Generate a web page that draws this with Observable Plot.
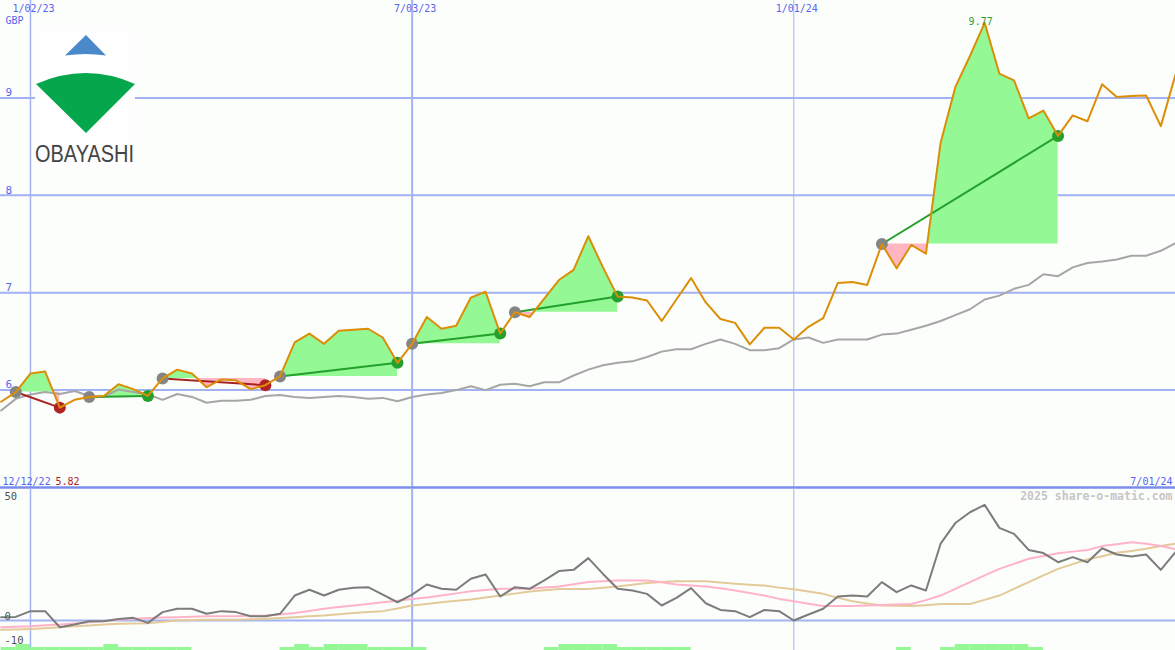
<!DOCTYPE html>
<html><head><meta charset="utf-8">
<script src="https://cdn.jsdelivr.net/npm/d3@7"></script>
<script src="https://cdn.jsdelivr.net/npm/@observablehq/plot@0.6"></script>
<style>
html,body{margin:0;padding:0;background:#fcfefc;}
#chart{position:relative;width:1175px;height:650px;overflow:hidden;background:#fcfefc;}
#chart > svg{position:absolute;left:0;}
</style></head><body><div id="chart"></div>
<script>
// ---------- data ----------
const startWeek = "2022-12-19", endWeek = "2024-07-01";
const price = [5.88,5.98,6.17,6.19,5.82,5.90,5.93,5.94,6.06,6.01,
  5.94,6.12,6.21,6.17,6.03,6.11,6.10,6.01,6.05,6.14,
  6.49,6.58,6.475,6.61,6.62,6.63,6.54,6.28,6.475,6.75,
  6.63,6.66,6.95,7.01,6.58,6.80,6.75,6.94,7.13,7.235,
  7.58,7.26,6.96,6.95,6.92,6.71,6.93,7.15,6.90,6.73,
  6.69,6.47,6.64,6.64,6.52,6.65,6.74,7.10,7.11,7.08,
  7.50,7.25,7.49,7.40,8.54,9.11,9.43,9.77,9.25,9.18,
  8.79,8.87,8.61,8.82,8.76,9.14,9.01,9.02,9.025,8.71,9.24];
const priceMA = [5.79,5.91,5.955,5.98,5.96,5.99,5.94,5.93,6.006,5.98,
  5.955,5.90,5.96,5.93,5.87,5.89,5.89,5.90,5.94,5.95,
  5.93,5.92,5.93,5.94,5.93,5.91,5.92,5.885,5.93,5.955,
  5.97,6.0,6.04,6.0,6.055,6.065,6.04,6.08,6.08,6.15,
  6.21,6.255,6.28,6.295,6.34,6.395,6.42,6.42,6.475,6.52,
  6.475,6.41,6.41,6.43,6.52,6.54,6.485,6.52,6.52,6.52,
  6.57,6.58,6.62,6.66,6.71,6.77,6.83,6.93,6.97,7.04,
  7.08,7.19,7.17,7.26,7.305,7.32,7.34,7.38,7.38,7.43,7.51];
const momentum = [1.4,1.5,3.9,3.9,-2.8,-1.7,-0.3,-0.3,0.6,1.1,
  -1.0,3.5,4.9,4.9,2.8,3.9,3.5,1.8,1.8,2.8,
  10.4,12.8,10.4,12.8,13.6,13.9,10.8,7.6,10.8,15,
  13.2,12.8,17.4,19.2,10,13.9,13.2,16.7,20.6,21.1,
  26,19.4,13.2,12.5,11.1,6.25,9.4,13.5,7.2,4.4,
  3.9,1.4,4.4,3.9,0,2.5,4.9,10,10.4,10,
  16,11.8,14.6,12.5,32,40.6,45.1,48.2,38.6,36.1,
  29.4,28.1,24.3,26.4,24.3,30.1,27.5,26.7,27.5,21.1,28.5];
const signalPink = [-2.8,-2.6,-2.4,-2.0,-1.7,-1.2,-0.7,-0.2,0.3,0.7,
  1.0,1.2,1.4,1.6,1.8,1.8,1.8,2.0,2.1,2.5,
  3.1,4.0,4.9,5.6,6.25,6.9,7.6,8.2,9.0,9.6,
  10.4,11.3,12.2,12.7,13.2,13.2,13.2,13.7,14.2,15.1,
  16,16.4,16.7,16.7,16.7,15.9,15,14.6,14.2,13.4,
  12.5,11.5,10.4,9.0,8.0,7.0,6.0,6.0,6.0,6.2,
  6.5,6.7,6.9,8.5,10.4,13.2,16,18.8,21.5,23.6,
  25.7,26.9,28,28.7,29.4,31.0,31.8,32.6,32.0,31.0,29.7];
const signalTan = [-3.9,-3.7,-3.5,-3.2,-2.8,-2.4,-2.1,-1.7,-1.4,-1.2,
  -1.1,-0.5,0,0.2,0.3,0.3,0.3,0.5,0.7,1.0,
  1.4,1.8,2.1,2.6,3.1,3.5,3.9,5.0,6.25,6.9,
  7.6,8.2,8.75,9.6,10.4,11.2,12.1,12.6,13.1,13.1,
  13.1,13.6,14.2,14.9,15.6,16.0,16.4,16.4,16.4,15.8,
  15.3,14.9,14.6,13.7,13.0,12.1,11.1,9.5,8.0,7.1,
  6.25,6.1,6.0,6.4,6.9,6.9,6.9,8.6,10.4,13.2,
  16,18.8,21.5,23.5,25.4,26.8,28.2,29.0,29.9,31.0,32];
const barLevel = [1,2,1,1,1,1,1,2,1,1,
  1,1,1,0,0,0,0,0,0,1,
  2,1,2,2,2,1,1,1,1,0,
  0,0,0,0,0,0,0,1,2,2,
  2,2,1,1,1,1,1,0,0,0,
  0,0,0,0,0,0,0,0,0,0,
  0,1,0,0,1,2,2,2,2,2,
  1,0,0,0,0,0,0,0,0,0,0];
const tradeEntry = ["2022-12-26","2023-01-30","2023-03-06","2023-05-01","2023-07-03","2023-08-21","2024-02-12"];
const tradeExit  = ["2023-01-16","2023-02-27","2023-04-24","2023-06-26","2023-08-14","2023-10-09","2024-05-06"];
const priceTicks = [6,7,8,9];
const dateTicks = ["2023-01-02","2023-07-03","2024-01-01"];
const dateTickLabels = ["1/02/23","7/03/23","1/01/24"];
const dateTickWidths = [1.5,2,1];
const indTicks = [50,0,-10];
const currency = "GBP";
const firstDateLabel = "12/12/22", lastDateLabel = "7/01/24";
const lowLabel = "5.82", highLabel = "9.77";
const watermark = "2025 share-o-matic.com";
const companyName = "OBAYASHI";

// ---------- prep ----------
const parse = d3.utcParse("%Y-%m-%d");
const dates = d3.utcMonday.range(parse(startWeek), d3.utcDay.offset(parse(endWeek), 1));
const rows = dates.map((d, i) => ({date: d, next: d3.utcDay.offset(d, 7), price: price[i], ma: priceMA[i],
  mom: momentum[i], pink: signalPink[i], tan: signalTan[i], bar: barLevel[i]}));
const idx = s => rows.findIndex(r => +r.date === +parse(s));
const trades = tradeEntry.map((e, t) => {
  const a = idx(e), b = idx(tradeExit[t]);
  return {t, a, b, entry: rows[a], exit: rows[b], gain: rows[b].price >= rows[a].price};
});
const fillPts = [];
trades.forEach(tr => {
  const base = tr.entry.price;
  for (let i = tr.a; i <= tr.b; i++) {
    const r = rows[i];
    fillPts.push({t: tr.t, date: r.date, base, v: r.price});
    if (i < tr.b) {
      const n = rows[i + 1];
      const d0 = r.price - base, d1 = n.price - base;
      if (d0 * d1 < 0) {
        const f = d0 / (d0 - d1);
        fillPts.push({t: tr.t, date: new Date(+r.date + f * (n.date - r.date)), base, v: base});
      }
    }
  }
});
const maxRow = rows.reduce((a, b) => b.price > a.price ? b : a);
const tickRows = dateTicks.map((d, i) => ({date: parse(d), label: dateTickLabels[i], w: dateTickWidths[i]}));

const xDomain = [new Date(Date.UTC(2022, 11, 18, 17)), new Date(Date.UTC(2024, 6, 1))];
const GRID = "#a3b2f2", LBL = "#5566ee", FONT = "DejaVu Sans Mono";
const chartDiv = document.getElementById("chart");

// ---------- price panel ----------
const pricePlot = Plot.plot({
  width: 1175, height: 490, marginTop: 0, marginBottom: 3, marginLeft: 0, marginRight: 0,
  style: {background: "transparent", fontFamily: FONT, fontSize: "10px", overflow: "visible"},
  x: {type: "utc", domain: xDomain, axis: null},
  y: {domain: [5, 10], axis: null},
  marks: [
    Plot.ruleY(priceTicks, {y: d => d, stroke: GRID, strokeWidth: 2}),
    Plot.ruleX(tickRows, {x: "date", stroke: GRID, strokeWidth: "w"}),
    Plot.areaY(fillPts, {x: "date", y1: "base", y2: d => Math.max(d.v, d.base), z: "t", fill: "#94f894", curve: "linear"}),
    Plot.areaY(fillPts, {x: "date", y1: "base", y2: d => Math.min(d.v, d.base), z: "t", fill: "#ffb6c1", curve: "linear"}),
    Plot.line(rows, {x: "date", y: "ma", stroke: "#a6a6a6", strokeWidth: 2}),
    Plot.link(trades, {x1: d => d.entry.date, y1: d => d.entry.price, x2: d => d.exit.date, y2: d => d.exit.price,
      stroke: d => d.gain ? "#24a02c" : "#a82222", strokeWidth: 2}),
    Plot.dot(trades, {x: d => d.entry.date, y: d => d.entry.price, r: 6, fill: "#858585"}),
    Plot.dot(trades, {x: d => d.exit.date, y: d => d.exit.price, r: 6, fill: d => d.gain ? "#24a02c" : "#b22222"}),
    Plot.line(rows, {x: "date", y: "price", stroke: "#dd8e08", strokeWidth: 2}),
    Plot.text([maxRow], {x: "date", y: "price", text: () => highLabel, lineAnchor: "bottom", dy: 2, dx: -4, fill: "#339933", fontSize: 10}),
    Plot.text(tickRows, {x: "date", frameAnchor: "top", text: "label", lineAnchor: "top", dy: 4, dx: 3, fill: LBL}),
    Plot.text([currency], {frameAnchor: "top-left", text: d => d, lineAnchor: "top", dx: 5, dy: 16, fill: LBL, textAnchor: "start"}),
    Plot.text(priceTicks, {y: d => d, frameAnchor: "left", text: d => String(d), lineAnchor: "top", textAnchor: "start", dx: 5, dy: -9.5, fill: LBL, fontSize: 11}),
    Plot.text([firstDateLabel], {frameAnchor: "bottom-left", text: d => d, lineAnchor: "bottom", textAnchor: "start", dx: 2, dy: -3, fill: LBL, fontSize: 10}),
    Plot.text([lowLabel], {frameAnchor: "bottom-left", text: d => d, lineAnchor: "bottom", textAnchor: "start", dx: 55, dy: -3, fill: "#a82222", fontSize: 10}),
    Plot.text([lastDateLabel], {frameAnchor: "bottom-right", text: d => d, lineAnchor: "bottom", textAnchor: "end", dx: -3, dy: -3, fill: LBL, fontSize: 10}),
    Plot.ruleY([5], {stroke: "#7b8cee", strokeWidth: 2.5})
  ]
});
pricePlot.style.top = "0px";
chartDiv.appendChild(pricePlot);

// ---------- logo ----------
const ns = "http://www.w3.org/2000/svg";
const logo = document.createElementNS(ns, "svg");
logo.setAttribute("width", 1175); logo.setAttribute("height", 650);
logo.style.top = "0px";
logo.innerHTML = `
  <rect x="35" y="28" width="100" height="140" fill="#fdfefd"/>
  <path d="M65,55.5 Q86,52.5 106,55.5 L86,35 Z" fill="#4a8acb"/>
  <path d="M36,84 Q86,62 135,84 L86,133 Z" fill="#05a64c"/>
  <text x="35" y="162.3" font-family="Liberation Sans, Arial, sans-serif" font-size="23" fill="#444444" textLength="99" lengthAdjust="spacingAndGlyphs">${companyName}</text>`;
chartDiv.appendChild(logo);

// ---------- indicator panel ----------
const indPlot = Plot.plot({
  width: 1175, height: 162, margin: 0,
  style: {background: "transparent", fontFamily: FONT, fontSize: "10.5px", overflow: "visible"},
  x: {type: "utc", domain: xDomain, axis: null},
  y: {domain: [-12.5, 55], axis: null},
  marks: [
    Plot.ruleY([0], {stroke: GRID, strokeWidth: 2}),
    Plot.ruleX(tickRows, {x: "date", stroke: GRID, strokeWidth: "w"}),
    Plot.line(rows, {x: "date", y: "tan", stroke: "#e3ca98", strokeWidth: 2}),
    Plot.line(rows, {x: "date", y: "pink", stroke: "#ffb3c8", strokeWidth: 2}),
    Plot.line(rows, {x: "date", y: "mom", stroke: "#7c7c7c", strokeWidth: 2}),
    Plot.text(indTicks, {y: d => d, frameAnchor: "left", text: d => String(d), lineAnchor: "top", textAnchor: "start", dx: 4, dy: -8, fill: "#505050"}),
    Plot.text([watermark], {frameAnchor: "top-right", text: d => d, lineAnchor: "top", textAnchor: "end", dx: -3, dy: 3, fill: "#c6c6c6", fontWeight: "bold", fontSize: 11.5})
  ]
});
indPlot.style.top = "488px";
chartDiv.appendChild(indPlot);

// ---------- bottom histogram ----------
const barPlot = Plot.plot({
  width: 1175, height: 6, margin: 0,
  style: {background: "transparent", overflow: "visible"},
  x: {type: "utc", domain: xDomain, axis: null},
  y: {domain: [0, 2], axis: null},
  marks: [
    Plot.rect(rows.filter(r => r.bar > 0), {x1: "date", x2: "next", y1: 0, y2: "bar", fill: "#94f894"})
  ]
});
barPlot.style.top = "644px";
chartDiv.appendChild(barPlot);
</script></body></html>
